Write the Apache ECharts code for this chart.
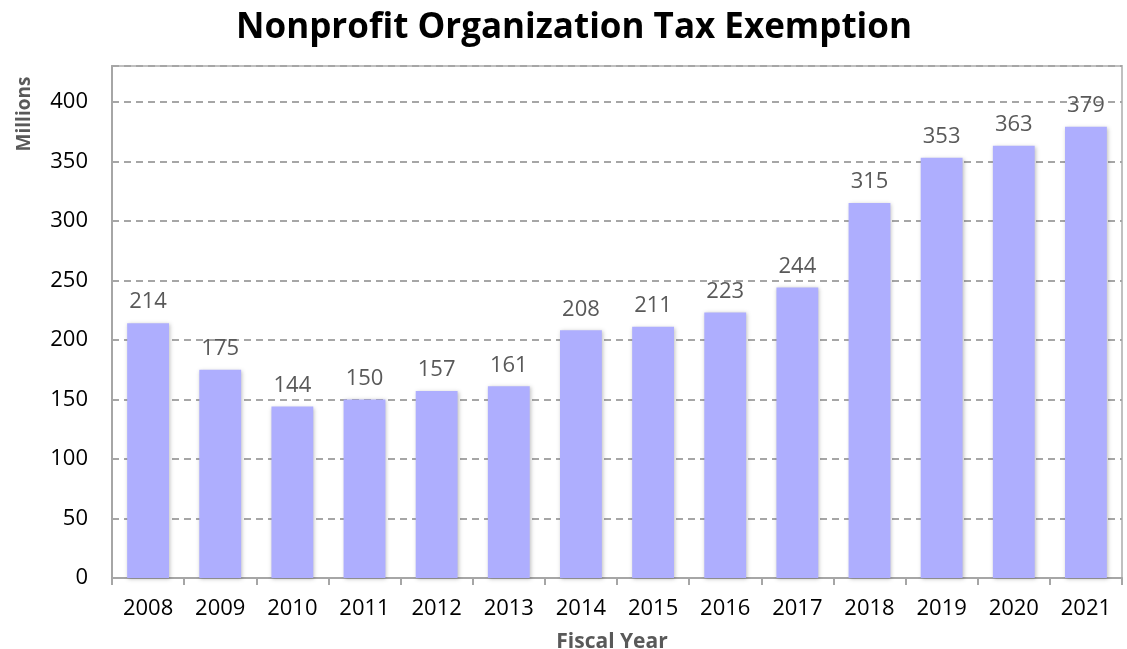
<!DOCTYPE html>
<html><head><meta charset="utf-8">
<script src="https://cdn.jsdelivr.net/npm/echarts@6/dist/echarts.min.js"></script>
<style>html,body{margin:0;padding:0;background:#fff}#c{width:1127px;height:649px}</style>
</head><body><div id="c"></div>
<script>
const categories = ['2008','2009','2010','2011','2012','2013','2014','2015','2016','2017','2018','2019','2020','2021'];
const values = [214,175,144,150,157,161,208,211,223,244,315,353,363,379];
const yTicks = [0,50,100,150,200,250,300,350,400];

const chart = echarts.init(document.getElementById('c'));
chart.setOption({
  animation:false,
  title:{text:'Nonprofit Organization Tax Exemption',left:569,top:6,textAlign:'center',
    textStyle:{fontFamily:'Open Sans',fontWeight:'bold',fontSize:35,color:'#000'}},
  grid:{left:112,right:5,top:66,bottom:71,show:true,borderColor:'#c0c0c0',borderWidth:2,
    containLabel:false,outerBoundsMode:'none'},
  graphic:[{type:'text',x:25,y:114,rotation:Math.PI/2,
    style:{text:'Millions',fontFamily:'Open Sans',fontWeight:'bold',fontSize:19,fill:'#595959',
      textAlign:'center',textVerticalAlign:'middle'}}],
  xAxis:{type:'category',data:categories,name:'Fiscal Year',nameLocation:'middle',nameGap:54,
    nameTextStyle:{fontFamily:'Open Sans',fontWeight:'bold',fontSize:21,color:'#595959',padding:[0,10,0,0]},
    axisLine:{lineStyle:{color:'#a6a6a6',width:2}},
    axisTick:{show:true,length:7,lineStyle:{color:'#a6a6a6',width:2}},
    axisLabel:{fontFamily:'Open Sans',fontSize:22,color:'#000',margin:20}},
  yAxis:{type:'value',min:0,max:430,interval:50,
    axisLine:{show:true,lineStyle:{color:'#a6a6a6',width:2}},
    axisTick:{show:false},
    axisLabel:{fontFamily:'Open Sans',fontSize:22,color:'#000',margin:24,
      formatter:v=>yTicks.includes(v)?String(v):''},
    splitLine:{lineStyle:{color:'#a6a6a6',type:[7,5],width:2}}},
  series:[{type:'bar',data:values,barCategoryGap:'42%',
    itemStyle:{color:'#aeaefe',shadowColor:'rgba(0,0,0,0.25)',shadowBlur:4,shadowOffsetX:1,shadowOffsetY:1},
    label:{show:true,position:'top',distance:10,fontFamily:'Open Sans',fontSize:22,color:'#595959'}}]
});
</script></body></html>
